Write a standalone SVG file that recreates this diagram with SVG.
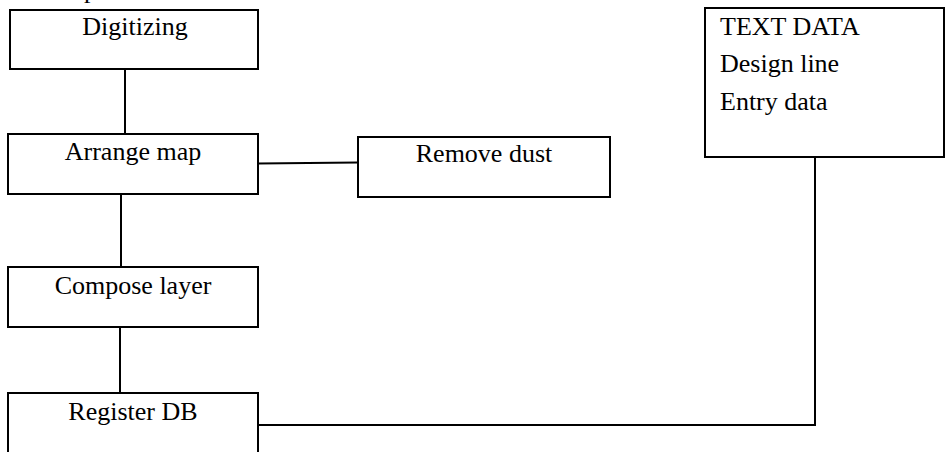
<svg xmlns="http://www.w3.org/2000/svg" width="945" height="452" viewBox="0 0 945 452">
<style>
.box{fill:#fff;stroke:#000;stroke-width:2}
.ln{fill:none;stroke:#000;stroke-width:2}
text{font-family:"Liberation Serif","Times New Roman",serif;font-size:26px;fill:#000}
.c{text-anchor:middle}
</style>
<rect width="945" height="452" fill="#fff"/>
<text x="84" y="-2">p</text>
<g id="connectors">
<line class="ln" x1="125" y1="69" x2="125" y2="134"/>
<line class="ln" x1="121" y1="194" x2="121" y2="267"/>
<line class="ln" x1="120" y1="327" x2="120" y2="393"/>
<line class="ln" x1="258" y1="163.5" x2="358" y2="162.5"/>
<polyline class="ln" points="258,425 815,425 815,157"/>
</g>
<g id="digitizing">
<rect class="box" x="10" y="10" width="248" height="59"/>
<text class="c" x="135" y="35">Digitizing</text>
</g>
<g id="arrange-map">
<rect class="box" x="8" y="134" width="250" height="60"/>
<text class="c" x="133" y="160">Arrange map</text>
</g>
<g id="remove-dust">
<rect class="box" x="358" y="137" width="252" height="60"/>
<text class="c" x="484" y="162">Remove dust</text>
</g>
<g id="compose-layer">
<rect class="box" x="8" y="267" width="250" height="60"/>
<text class="c" x="133" y="294">Compose layer</text>
</g>
<g id="register-db">
<rect class="box" x="8" y="393" width="250" height="80"/>
<text class="c" x="133" y="420">Register DB</text>
</g>
<g id="text-data">
<rect class="box" x="705" y="8" width="239" height="149"/>
<text x="720" y="35">TEXT DATA</text>
<text x="720" y="72">Design line</text>
<text x="720" y="110">Entry data</text>
</g>
</svg>
